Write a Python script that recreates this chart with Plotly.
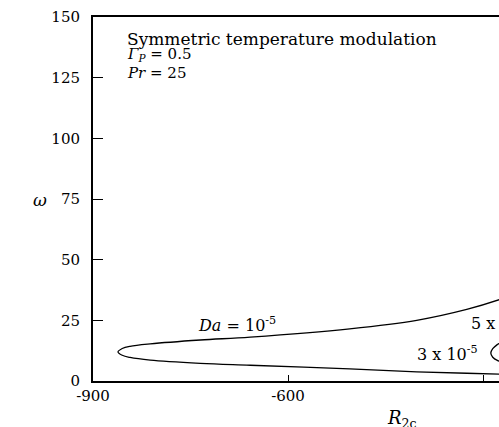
import plotly.graph_objects as go

# Da = 1e-5 neutral curve (omega vs R_2c)
R_da1 = [-250, -275, -325, -402, -505, -658, -735, -812, -843, -855, -861.5,
         -855, -843, -812, -735, -658, -505, -402, -325, -275, -250]
w_da1 = [36.0, 33.5, 29.5, 25.0, 21.5, 18.1, 16.9, 15.3, 14.3, 13.4, 12.0,
         10.6, 9.7, 8.6, 7.3, 6.5, 5.0, 3.8, 3.2, 2.8, 2.6]

# Da = 3e-5 curve (nose near right edge)
R_da3 = [-250, -265, -278, -285, -288, -285, -278, -265, -250]
w_da3 = [19.5, 17.2, 15.0, 13.3, 11.5, 9.8, 8.5, 7.4, 6.6]

x_ticks = [-900, -600, -300]
x_labels = ["-900", "-600", "-300"]
y_ticks = [0, 25, 50, 75, 100, 125, 150]

FONT = "DejaVu Serif"

fig = go.Figure()
fig.add_trace(go.Scatter(x=R_da1, y=w_da1, mode="lines", line=dict(color="black", width=1.3, shape="spline"),
                         showlegend=False))
fig.add_trace(go.Scatter(x=R_da3, y=w_da3, mode="lines", line=dict(color="black", width=1.3, shape="spline"),
                         showlegend=False))

ann = []
def txt(x, y, s, xref="x", yref="y", xanchor="left", size=17):
    ann.append(dict(x=x, y=y, xref=xref, yref=yref, text=s, showarrow=False, xanchor=xanchor,
                    yanchor="middle", font=dict(family=FONT, size=size, color="black")))

txt(-851, 141.0, "Symmetric temperature modulation")
txt(-851, 134.4, "<i>Γ<sub>P</sub></i> = 0.5", size=15)
txt(-851, 127.0, "<i>Pr</i> = 25", size=15)
txt(-741, 23.3, "<i>Da</i> = 10<sup>-5</sup>", size=16)
txt(-322, 24.3, "5 x 10<sup>-5</sup>", size=16)
txt(-405, 11.3, "3 x 10<sup>-5</sup>", size=16)
txt((40 - 93) / 406, (381 - 200) / 364, "<i>ω</i>", xref="paper", yref="paper", xanchor="center", size=17)
txt((385 - 93) / 406, (381 - 419) / 364, "<i>R</i><sub>2c</sub>", xref="paper", yref="paper", size=18)

fig.update_layout(
    width=499, height=427,
    margin=dict(l=93, r=0, t=17, b=46),
    plot_bgcolor="white", paper_bgcolor="white",
    font=dict(family=FONT, size=15, color="black"),
    annotations=ann,
    xaxis=dict(range=[-900, -900 + 406 / 0.65], tickvals=x_ticks, ticktext=x_labels,
               ticks="inside", ticklen=6,
               tickcolor="black", showline=True, linecolor="black", linewidth=2, mirror=True,
               showgrid=False, zeroline=False),
    yaxis=dict(range=[0, 150], tickvals=y_ticks, ticks="inside", ticklen=10, ticklabelstandoff=8,
               tickcolor="black", showline=True, linecolor="black", linewidth=2, mirror=False,
               showgrid=False, zeroline=False),
)
fig.write_html("out.html")
